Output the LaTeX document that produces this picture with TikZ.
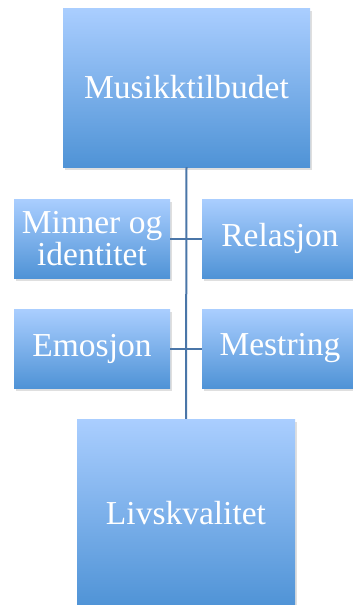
\documentclass[tikz,border=0pt]{standalone}
\usepackage{fontspec}
\setmainfont{Liberation Serif}
\usetikzlibrary{shadows}
\definecolor{boxtop}{RGB}{170,206,255}
\definecolor{boxbot}{RGB}{79,147,214}
\definecolor{linecol}{RGB}{74,118,168}
\tikzset{
  box/.style={rectangle, inner sep=0pt, top color=boxtop, bottom color=boxbot,
    draw=none, text=white, align=center,
    font=\fontsize{33.5}{32}\selectfont,
    drop shadow={opacity=0.25, shadow xshift=2pt, shadow yshift=-3pt}},
  conn/.style={draw=linecol, line width=2pt}
}
\begin{document}
\begin{tikzpicture}[x=1pt,y=-1pt]
\useasboundingbox (0,0) rectangle (353,605);
\clip (0,0) rectangle (353,605);
\fill[white] (0,0) rectangle (353,605);
\node[box, minimum width=247pt, minimum height=159pt] (top) at (186.5,87.5) {Musikktilbudet};
\node[box, minimum width=156pt, minimum height=79pt] (minner) at (92,238.5) {Minner og\\identitet};
\node[box, minimum width=156pt, minimum height=79pt] (rel) at (280,238.5) {Relasjon};
\node[box, minimum width=156pt, minimum height=79pt] (emo) at (92,348.5) {Emosjon};
\node[box, minimum width=156pt, minimum height=79pt] (mes) at (280,348.5) {Mestring};
\node[box, minimum width=218pt, minimum height=188pt] (liv) at (186,513) {Livskvalitet};
\draw[conn] (top.south) -- (liv.north);
\draw[conn] (minner.east) -- (rel.west);
\draw[conn] (emo.east) -- (mes.west);
\end{tikzpicture}
\end{document}
